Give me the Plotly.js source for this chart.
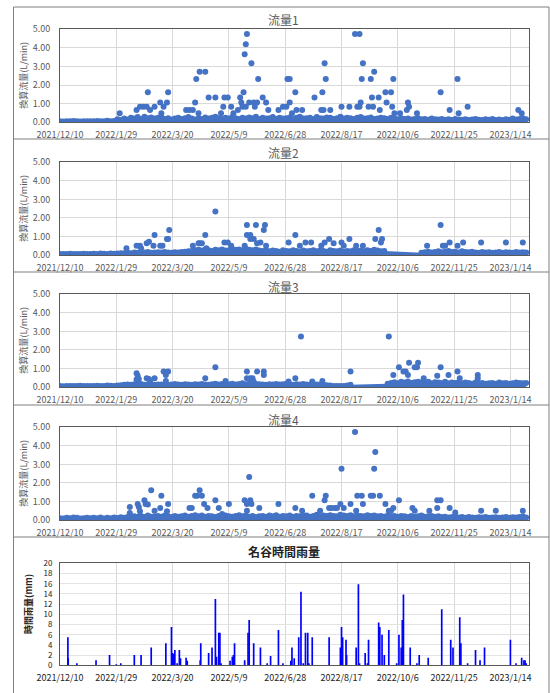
<!DOCTYPE html>
<html><head><meta charset="utf-8">
<script src="https://cdn.plot.ly/plotly-3.0.1.min.js"></script>
<style>html,body{margin:0;padding:0;background:#fff}#c{width:550px;height:693px}</style>
</head><body><div id="c"></div>
<script>
// ---- data ----
const startDate = '2021-12-10';
const baseStepDays = 3;
const tickDates = ['2021-12-10','2022-01-29','2022-03-20','2022-05-09','2022-06-28','2022-08-17','2022-10-06','2022-11-25','2023-01-14'];
const tickLabels = ['2021/12/10','2022/1/29','2022/3/20','2022/5/9','2022/6/28','2022/8/17','2022/10/6','2022/11/25','2023/1/14'];
const flowTitles = ['流量1','流量2','流量3','流量4'];
const rainTitle = '名谷時間雨量';
const flowYTitle = '換算流量(L/min)';
const rainYTitle = '時間雨量(mm)';

// baseline band (one value every baseStepDays from startDate)
const base1 = [0.05,0.04,0.06,0.05,0.07,0.05,0.04,0.06,0.05,0.06,
0.05,0.07,0.06,0.05,0.08,0.06,0.07,0.16,0.12,0.20,
0.15,0.25,0.20,0.28,0.18,0.30,0.22,0.26,0.20,0.24,
0.28,0.18,0.22,0.15,0.20,0.25,0.18,0.22,0.28,0.20,
0.15,0.22,0.18,0.26,0.20,0.24,0.30,0.22,0.18,0.25,
0.20,0.28,0.22,0.18,0.24,0.20,0.26,0.22,0.30,0.18,
0.24,0.20,0.22,0.28,0.18,0.25,0.20,0.22,0.26,0.18,
0.24,0.30,0.20,0.22,0.25,0.18,0.28,0.22,0.20,0.26,
0.24,0.18,0.22,0.30,0.20,0.25,0.22,0.18,0.24,0.28,
0.20,0.22,0.26,0.18,0.20,0.24,0.22,0.18,0.25,0.20,
0.16,0.22,0.18,0.20,0.15,0.18,0.22,0.16,0.18,0.14,
0.20,0.16,0.15,0.18,0.14,0.16,0.12,0.18,0.15,0.14,
0.16,0.12,0.15,0.18,0.14,0.12,0.16,0.14,0.18,0.13,
0.15,0.12,0.16,0.14,0.20,0.15,0.18,0.22,0.16];
const base2 = [0.05,0.06,0.05,0.07,0.06,0.05,0.06,0.07,0.05,0.06,
0.07,0.06,0.08,0.07,0.06,0.08,0.07,0.08,0.10,0.09,
0.12,0.10,0.14,0.12,0.15,0.13,0.16,0.12,0.14,0.15,
0.13,0.16,0.14,0.12,0.15,0.14,0.16,0.18,0.20,0.22,
0.25,0.28,0.24,0.30,0.26,0.22,0.28,0.25,0.30,0.24,
0.26,0.32,0.28,0.30,0.25,0.34,0.28,0.26,0.30,0.24,
0.22,0.26,0.20,0.24,0.22,0.18,0.25,0.22,0.20,0.26,
0.22,0.18,0.24,0.20,0.22,0.26,0.20,0.24,0.22,0.18,
0.25,0.22,0.20,0.24,0.18,0.22,0.20,0.26,0.22,0.24,
0.20,0.25,0.22,0.28,0.24,0.20,0.22,
null,null,null,null,null,null,null,null,null,null,
0.12,0.15,0.18,0.14,0.16,0.20,0.15,0.18,0.22,0.16,
0.18,0.14,0.20,0.16,0.15,0.18,0.14,0.12,0.16,0.14,
0.15,0.12,0.14,0.16,0.12,0.15,0.14,0.12,0.16,0.13,0.15,0.14];
const base3 = [0.05,0.04,0.06,0.05,0.06,0.05,0.07,0.05,0.06,0.05,
0.06,0.07,0.05,0.06,0.08,0.07,0.06,0.08,0.10,0.12,
0.14,0.12,0.15,0.13,0.16,0.12,0.14,0.15,0.12,0.14,
0.13,0.15,0.12,0.14,0.16,0.13,0.12,0.15,0.14,0.12,
0.15,0.13,0.16,0.14,0.12,0.15,0.18,0.14,0.16,0.13,
0.15,0.18,0.14,0.16,0.20,0.15,0.18,0.14,0.16,0.15,
0.14,0.12,0.15,0.13,0.16,0.14,0.15,0.18,0.14,0.12,
0.15,0.13,0.16,0.14,0.12,0.15,0.13,0.14,0.12,0.10,
0.08,0.06,0.05,0.06,0.05,0.08,0.12,
null,null,null,null,null,null,null,null,null,null,
0.18,0.22,0.26,0.20,0.28,0.24,0.30,0.22,0.26,0.28,
0.24,0.22,0.28,0.20,0.26,0.24,0.22,0.28,0.20,0.24,
0.22,0.26,0.20,0.24,0.22,0.18,0.24,0.20,0.22,0.18,
0.20,0.22,0.18,0.24,0.20,0.22,0.18,0.20,0.24,0.22,0.20,0.22];
const base4 = [0.10,0.08,0.12,0.10,0.14,0.12,0.08,0.10,0.12,0.09,
0.12,0.10,0.14,0.08,0.12,0.10,0.13,0.11,0.15,0.12,
0.16,0.14,0.20,0.18,0.22,0.16,0.24,0.18,0.20,0.22,
0.18,0.24,0.20,0.16,0.22,0.18,0.20,0.24,0.18,0.22,
0.26,0.20,0.24,0.18,0.22,0.20,0.16,0.22,0.18,0.24,
0.20,0.18,0.22,0.26,0.20,0.24,0.18,0.22,0.16,0.20,
0.22,0.18,0.24,0.20,0.26,0.18,0.22,0.20,0.24,0.18,
0.22,0.20,0.26,0.24,0.18,0.22,0.28,0.20,0.24,0.22,
0.26,0.22,0.20,0.28,0.24,0.22,0.26,0.20,0.24,0.22,
0.20,0.26,0.22,0.24,0.20,0.22,0.18,0.24,0.20,0.22,
0.18,0.22,0.20,0.16,0.22,0.18,0.20,0.24,0.18,0.20,
0.22,0.18,0.20,0.16,0.18,0.14,0.16,0.18,0.14,0.16,
0.12,0.16,0.14,0.12,0.15,0.13,0.16,0.12,0.14,0.15,
0.12,0.14,0.16,0.12,0.15,0.13,0.16,0.20,0.14];

// scattered higher readings: day offset from startDate, value
const peak1Day = [53,68,71,74,77,78,80,84,89,92,95,96,90,112,115,118,120,121,124,129,123,132,138,143,145,146,149,152,154,158,160,161,163,164,165,166,162,165,168,170,172,175,173,176,180,183,185,194,198,201,202,204,204,209,206,210,215,226,232,234,233,235,236,240,250,257,262,266,264,266,267,268,269,274,276,277,279,278,283,284,289,290,294,295,296,297,302,309,310,308,317,338,346,353,354,362,407,410];
const peak1Val = [0.48,0.66,0.84,0.84,0.84,1.61,0.66,0.84,1.07,0.84,1.07,1.61,0.48,0.66,0.66,0.66,1.07,2.33,2.72,2.72,0.48,1.33,1.33,0.48,0.84,1.33,1.33,0.84,0.48,0.66,1.33,1.07,1.61,3.66,4.19,4.75,0.84,0.84,1.07,3.17,1.07,1.07,0.84,2.33,1.33,1.07,0.66,0.66,0.84,0.84,2.33,2.33,1.07,1.61,0.48,0.66,0.66,1.33,0.66,0.66,1.61,3.17,2.33,0.66,0.84,0.84,4.75,4.75,0.84,0.84,1.07,2.33,3.17,0.84,2.33,1.33,2.72,0.84,1.33,0.66,1.61,1.07,1.61,0.84,2.33,0.48,0.48,1.07,0.84,0.66,0.48,1.61,0.66,2.33,0.48,0.84,0.66,0.48];
const peak2Day = [59,68,71,72,77,79,84,83,89,91,95,96,97,118,123,124,126,129,130,138,146,149,152,164,166,166,169,169,172,174,175,178,181,182,183,203,209,213,218,223,232,235,239,243,250,252,257,263,269,280,283,285,286,326,338,340,342,346,353,358,374,396,411];
const peak2Val = [0.36,0.5,0.5,0.36,0.63,0.72,1.08,0.5,0.5,0.5,0.86,0.86,1.35,0.5,0.63,0.63,0.63,1.08,0.36,2.34,0.68,0.68,0.5,0.5,1.62,1.08,1.08,0.86,0.86,1.62,0.63,0.68,1.35,1.62,0.5,0.68,1.08,0.5,0.68,0.68,0.5,0.68,0.86,0.63,0.68,0.5,0.86,0.5,0.5,0.86,1.35,0.68,0.86,0.5,1.62,0.5,0.5,0.68,0.5,0.68,0.68,0.68,0.68];
const peak3Day = [68,69,70,68,77,79,80,84,92,96,94,94,129,138,147,166,166,169,171,175,181,181,172,203,209,214,224,233,258,292,296,301,305,307,309,310,315,317,318,323,335,338,345,353,355,371,371];
const peak3Val = [0.74,0.61,0.43,0.4,0.47,0.43,0.29,0.47,0.83,0.83,0.65,0.32,0.47,1.06,0.32,0.83,0.47,0.47,0.47,0.83,0.83,0.65,0.29,0.29,0.47,2.72,0.29,0.32,0.83,2.72,0.65,1.06,0.83,0.83,0.65,1.31,1.06,1.06,1.31,0.47,0.61,1.06,0.65,0.83,0.47,0.65,0.47];
const peak4Day = [62,62,69,70,71,75,76,78,81,84,89,90,96,95,115,117,120,122,124,126,128,131,138,141,144,150,164,166,166,168,169,170,177,194,209,215,224,231,235,236,239,241,244,246,249,250,252,258,262,263,264,268,269,276,278,279,280,284,289,292,294,296,301,313,315,328,335,338,335,346,351,374,387,411];
const peak4Val = [0.70,0.38,0.86,0.70,0.47,1.06,0.86,0.83,1.60,0.5,0.65,1.31,0.86,0.47,0.65,0.65,1.31,1.31,1.60,1.31,0.86,0.65,1.06,0.65,0.32,0.86,1.06,0.86,0.5,2.32,1.06,0.86,0.65,0.86,0.65,0.5,1.31,0.5,1.06,1.31,0.65,0.65,0.65,0.65,0.86,2.77,0.65,0.86,4.75,0.5,1.31,1.31,0.86,1.31,1.31,2.77,3.67,1.31,0.86,0.5,0.5,0.65,1.06,0.65,0.5,0.5,1.06,1.06,0.65,0.65,0.4,0.5,0.5,0.5];

// hourly rainfall (mm): day offset from startDate, value
const rainDay = [7,7.3,15,32,44,50,54,66,72,81,94,99,100,101,102,104,106,107,112,113,125,124.5,132,135,138,139,141,142,143,151,153,154,155,164,167,168,172,178,184,187,194,198,205,206,208,212,214,216,218,220,221,224,239,249,250,251,254,254.5,263,265,266,271,273,274,283,284,286,288,292,299,301,303,304,305,311,317,319,327,339,347,349,355,356,362,369,373,377,400,405,410,412,413,414];
const rainVal = [5.5,1.4,0.4,1.0,2.0,0.2,0.4,2.0,2.0,3.5,4.3,7.5,2.4,2.2,3.0,0.4,3.0,1.4,1.5,0.9,4.3,1.0,2.4,3.5,13.0,1.7,6.4,6.4,0.4,0.9,1.7,2.0,4.3,1.0,6.4,8.9,4.3,3.5,0.4,1.8,6.9,0.4,0.9,3.5,1.4,5.5,14.4,0.4,6.4,6.4,0.4,5.5,5.5,3.5,7.5,5.5,5.0,2.0,3.5,15.9,0.4,2.4,0.4,5.0,8.4,7.5,6.0,2.0,6.9,0.4,6.0,3.5,8.9,13.9,3.5,0.4,2.0,1.5,11.0,5.0,3.5,9.4,4.3,0.4,3.0,1.0,3.5,5.0,0.4,1.5,1.0,1.0,0.4];

// ---- drawing ----
const W = 550, H = 693;
const DAY = 86400000;
const t0 = Date.parse(startDate + 'T00:00:00Z');
function toDate(d){ return new Date(t0 + d*DAY).toISOString().replace('T',' ').slice(0,19); }
function baseDates(arr){ return arr.map((_, i) => toDate(i*baseStepDays)); }

const FONT = '"Noto Sans CJK JP", "Noto Sans", sans-serif';
const GRAY = '#595959';
const BLUE = '#4472C4';
const xRange = [toDate(0), toDate(416.5)];
const plotL = 60, plotR = 529;
const flowBoxes = [[29.3,122.3],[162.3,255],[294.3,387],[427.3,520]];
const rainBox = [563.3,665.3];
const flowTitleY = [20,153,286,419];
const rainTitleY = 551;
const sepLines = [7,139,272,405,537];

function ydom(b){ return [1 - b[1]/H, 1 - b[0]/H]; }

const bases = [base1, base2, base3, base4];
const peakDays = [peak1Day, peak2Day, peak3Day, peak4Day];
const peakVals = [peak1Val, peak2Val, peak3Val, peak4Val];

const data = [];
const layout = {
  width: W, height: H, margin: {l:0, r:0, t:0, b:0},
  paper_bgcolor: '#fff', plot_bgcolor: '#fff', showlegend: false,
  font: {family: FONT, color: GRAY, size: 9},
  shapes: [], annotations: []
};

function xAxis(anchor, col){
  return {domain:[plotL/W, plotR/W], anchor: anchor, type:'date', range: xRange,
    tickmode:'array', tickvals: tickDates.map(d => d + ' 00:00:00'), ticktext: tickLabels,
    tickfont:{family: FONT, size: 9, color: col}, tickangle: 0,
    showgrid:true, gridcolor:'#d9d9d9', gridwidth:1,
    showline:true, mirror:true, linecolor:'#595959', linewidth:1, zeroline:false,
    ticks:'outside', ticklen:4, tickcolor:'rgba(0,0,0,0)', fixedrange:true};
}

for (let k = 0; k < 4; k++){
  const n = k === 0 ? '' : String(k+1);
  const xa = 'x' + n, ya = 'y' + n;
  data.push({type:'scatter', mode:'lines+markers', x: baseDates(bases[k]), y: bases[k],
    xaxis: xa, yaxis: ya, marker:{color: BLUE, size: 6}, line:{color: BLUE, width: 2},
    fill:'tozeroy', fillcolor: BLUE, connectgaps:false, hoverinfo:'skip'});
  data.push({type:'scatter', mode:'markers', x: peakDays[k].map(toDate), y: peakVals[k],
    xaxis: xa, yaxis: ya, marker:{color: BLUE, size: 6}, hoverinfo:'skip'});
  layout['xaxis' + n] = xAxis(ya, GRAY);
  layout['yaxis' + n] = {domain: ydom(flowBoxes[k]), anchor: xa, range:[0,5], tickmode:'linear', tick0:0, dtick:1,
    tickformat:'.2f', tickfont:{family: FONT, size: 9, color: GRAY},
    showgrid:true, gridcolor:'#d9d9d9', gridwidth:1,
    showline:true, mirror:true, linecolor:'#595959', linewidth:1, zeroline:false,
    ticks:'outside', ticklen:7, tickcolor:'rgba(0,0,0,0)', fixedrange:true};
  layout.annotations.push({text: flowTitles[k], xref:'paper', yref:'paper', x: 283/W, y: 1 - flowTitleY[k]/H,
    xanchor:'center', yanchor:'middle', showarrow:false, font:{family: FONT, size: 12, color: GRAY}});
  layout.annotations.push({text: flowYTitle, xref:'paper', yref:'paper', x: 24/W,
    y: 1 - (flowBoxes[k][0] + flowBoxes[k][1])/2/H, textangle:-90,
    xanchor:'center', yanchor:'middle', showarrow:false, font:{family: FONT, size: 9, color: GRAY}});
}

// rainfall
data.push({type:'bar', x: rainDay.map(toDate), y: rainVal, xaxis:'x5', yaxis:'y5',
  width: 1.5*DAY, marker:{color:'#0000FF', line:{width:0}}, hoverinfo:'skip'});
layout.xaxis5 = xAxis('y5', '#222');
layout.yaxis5 = {domain: ydom(rainBox), anchor:'x5', range:[0,20], tickmode:'linear', tick0:0, dtick:2,
  tickfont:{family: FONT, size: 8, color:'#222'},
  showgrid:true, gridcolor:'#e3e3e3', gridwidth:1,
  showline:true, mirror:true, linecolor:'#595959', linewidth:1, zeroline:false,
  ticks:'outside', ticklen:5, tickcolor:'rgba(0,0,0,0)', fixedrange:true};
layout.annotations.push({text: '<b>' + rainTitle + '</b>', xref:'paper', yref:'paper', x: 284/W, y: 1 - rainTitleY/H,
  xanchor:'center', yanchor:'middle', showarrow:false, font:{family: FONT, size: 12, color:'#222'}});
layout.annotations.push({text: '<b>' + rainYTitle + '</b>', xref:'paper', yref:'paper', x: 28/W, y: 1 - 604/H,
  textangle:-90, xanchor:'center', yanchor:'middle', showarrow:false, font:{family: FONT, size: 9, color:'#222'}});

// panel frames
const FR = '#7f7f7f';
layout.shapes.push({type:'line', xref:'paper', yref:'paper', x0:13.5/W, x1:13.5/W, y0:1-7/H, y1:0, line:{color:FR, width:1}});
layout.shapes.push({type:'line', xref:'paper', yref:'paper', x0:549/W, x1:549/W, y0:1-7/H, y1:0, line:{color:FR, width:1}});
sepLines.forEach(p => layout.shapes.push({type:'line', xref:'paper', yref:'paper', x0:13.5/W, x1:549/W,
  y0:1-p/H, y1:1-p/H, line:{color:FR, width:1}}));

Plotly.newPlot('c', data, layout, {staticPlot:true, displayModeBar:false});
</script></body></html>
